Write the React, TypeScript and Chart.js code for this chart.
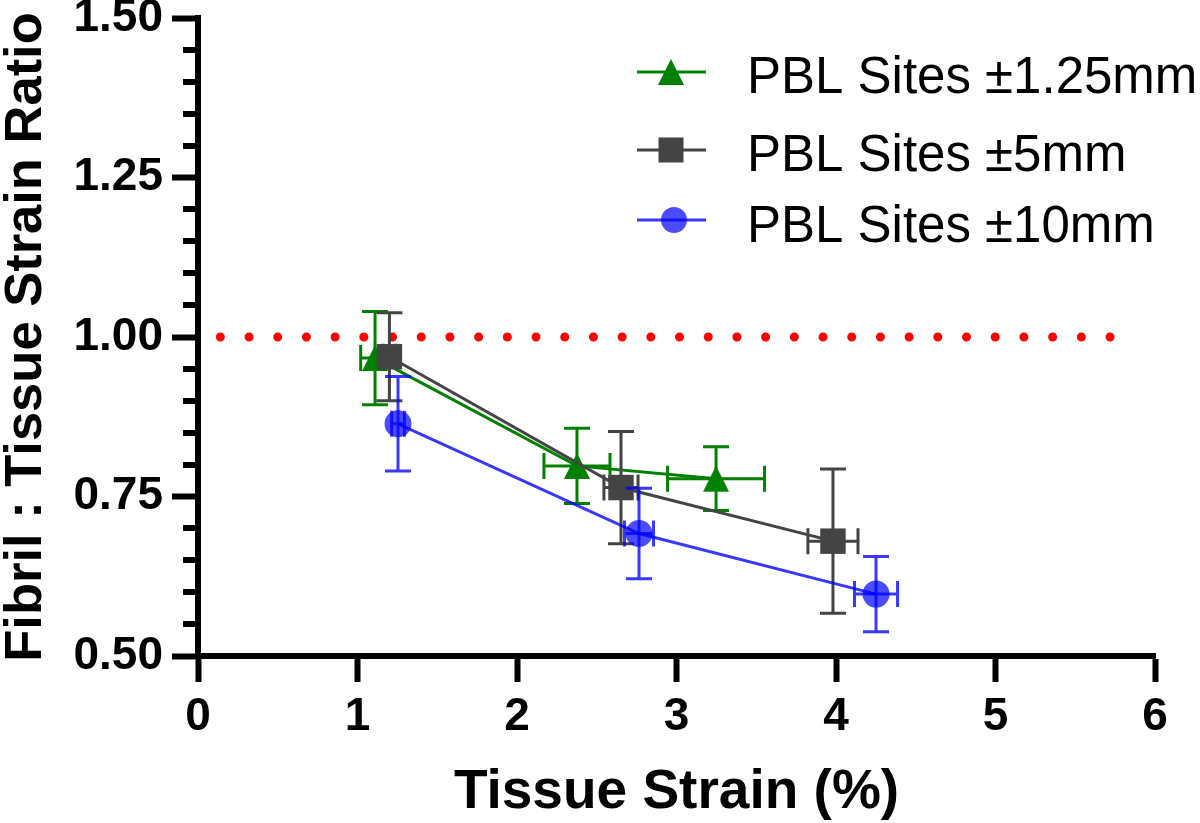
import React, { useEffect, useRef } from "react";
import { Chart, registerables } from "chart.js";

Chart.register(...registerables);

// ---- data ----
const greenX = [1.11, 2.376, 3.248];
const greenY = [0.967, 0.798, 0.778];
const greenXErr = [0.09, 0.207, 0.304];
const greenYErr = [0.073, 0.059, 0.05];

const grayX = [1.2, 2.652, 3.981];
const grayY = [0.969, 0.764, 0.68];
const grayXErr = [0.04, 0.107, 0.157];
const grayYErr = [0.069, 0.088, 0.113];

const blueX = [1.254, 2.765, 4.251];
const blueY = [0.864, 0.692, 0.597];
const blueXErr = [0.04, 0.091, 0.135];
const blueYErr = [0.074, 0.071, 0.059];

const refLineX = [0.14, 5.72];
const refLineY = [1.0, 1.0];

const seriesLabels = ["PBL Sites \u00b11.25mm", "PBL Sites \u00b15mm", "PBL Sites \u00b110mm"];
const xTitle = "Tissue Strain (%)";
const yTitle = "Fibril : Tissue Strain Ratio";

const GREEN = "#008000";
const GRAY = "#444444";
const BLUE = "rgba(0,0,255,0.78)";
const BLUE_FILL = "rgba(0,0,255,0.7)";
const FONT = "'Liberation Sans', Arial, Helvetica, sans-serif";

function makeTriangle(color: string, size: number) {
  const c = document.createElement("canvas");
  c.width = size + 2;
  c.height = size + 2;
  const ctx = c.getContext("2d")!;
  ctx.fillStyle = color;
  ctx.beginPath();
  ctx.moveTo(1, size + 1);
  ctx.lineTo(size + 1, size + 1);
  ctx.lineTo(size / 2 + 1, 1);
  ctx.closePath();
  ctx.fill();
  return c;
}

const errorBarData: Record<number, { xe: number[]; ye: number[]; color: string }> = {
  1: { xe: greenXErr, ye: greenYErr, color: GREEN },
  2: { xe: grayXErr, ye: grayYErr, color: GRAY },
  3: { xe: blueXErr, ye: blueYErr, color: BLUE },
};

const errorBarPlugin = {
  id: "errorBars",
  beforeDatasetDraw(chart: any, args: any) {
    const info = errorBarData[args.index];
    if (!info) return;
    const ds = chart.data.datasets[args.index];
    const xs = chart.scales.x;
    const ys = chart.scales.y;
    const ctx = chart.ctx;
    const cap = 13;
    ctx.save();
    ctx.strokeStyle = info.color;
    ctx.lineWidth = 3;
    ds.data.forEach((p: any, i: number) => {
      const px = xs.getPixelForValue(p.x);
      const py = ys.getPixelForValue(p.y);
      const yTop = ys.getPixelForValue(p.y + info.ye[i]);
      const yBot = ys.getPixelForValue(p.y - info.ye[i]);
      const xL = xs.getPixelForValue(p.x - info.xe[i]);
      const xR = xs.getPixelForValue(p.x + info.xe[i]);
      ctx.beginPath();
      ctx.moveTo(px, yTop);
      ctx.lineTo(px, yBot);
      ctx.moveTo(px - cap, yTop);
      ctx.lineTo(px + cap, yTop);
      ctx.moveTo(px - cap, yBot);
      ctx.lineTo(px + cap, yBot);
      ctx.moveTo(xL, py);
      ctx.lineTo(xR, py);
      ctx.moveTo(xL, py - cap);
      ctx.lineTo(xL, py + cap);
      ctx.moveTo(xR, py - cap);
      ctx.lineTo(xR, py + cap);
      ctx.stroke();
    });
    ctx.restore();
  },
};

const minorTickPlugin = {
  id: "minorTicks",
  afterDraw(chart: any) {
    const ys = chart.scales.y;
    const ctx = chart.ctx;
    const x0 = chart.chartArea.left;
    ctx.save();
    ctx.strokeStyle = "#000";
    ctx.lineWidth = 6;
    for (let k = 11; k < 30; k++) {
      if (k % 5 === 0) continue;
      const v = k * 0.05;
      const py = Math.round(ys.getPixelForValue(v));
      ctx.beginPath();
      ctx.moveTo(x0, py);
      ctx.lineTo(x0 - 15, py);
      ctx.stroke();
    }
    ctx.restore();
  },
};

const legendPlugin = {
  id: "customLegend",
  afterDraw(chart: any) {
    const ctx = chart.ctx;
    const rows = [
      { y: 72, base: 93, color: GREEN, marker: "tri" },
      { y: 150, base: 171, color: GRAY, marker: "rect" },
      { y: 220, base: 242, color: BLUE, marker: "circle" },
    ];
    ctx.save();
    rows.forEach((r, i) => {
      ctx.strokeStyle = r.color;
      ctx.lineWidth = 3;
      ctx.beginPath();
      ctx.moveTo(637, r.y);
      ctx.lineTo(706, r.y);
      ctx.stroke();
      const cx = 671;
      if (r.marker === "tri") {
        ctx.fillStyle = GREEN;
        ctx.beginPath();
        ctx.moveTo(cx - 13, r.y + 13);
        ctx.lineTo(cx + 13, r.y + 13);
        ctx.lineTo(cx, r.y - 13);
        ctx.closePath();
        ctx.fill();
      } else if (r.marker === "rect") {
        ctx.fillStyle = GRAY;
        ctx.fillRect(cx - 12.5, r.y - 12.5, 25, 25);
      } else {
        ctx.fillStyle = BLUE_FILL;
        ctx.beginPath();
        ctx.arc(cx + 3, r.y, 13, 0, Math.PI * 2);
        ctx.fill();
      }
      ctx.fillStyle = "#000";
      ctx.font = `51px ${FONT}`;
      ctx.textAlign = "left";
      ctx.textBaseline = "alphabetic";
      ctx.fillText(seriesLabels[i], 747, r.base);
    });
    ctx.restore();
  },
};

function toPoints(xs: number[], ys: number[]) {
  return xs.map((x, i) => ({ x, y: ys[i] }));
}

export default function App() {
  const canvasRef = useRef<HTMLCanvasElement | null>(null);

  useEffect(() => {
    document.body.style.margin = "0";
    const canvas = canvasRef.current!;
    const triangle = makeTriangle(GREEN, 26);
    const chart = new Chart(canvas, {
      type: "scatter",
      data: {
        datasets: [
          {
            label: "ref",
            data: toPoints(refLineX, refLineY),
            showLine: true,
            borderColor: "#ff0000",
            borderWidth: 9,
            borderDash: [0, 28.7],
            borderCapStyle: "round",
            pointRadius: 0,
            order: 4,
          },
          {
            label: seriesLabels[0],
            data: toPoints(greenX, greenY),
            showLine: true,
            borderColor: GREEN,
            borderWidth: 3,
            pointStyle: triangle as any,
            pointRadius: 14,
            backgroundColor: GREEN,
            order: 3,
          },
          {
            label: seriesLabels[1],
            data: toPoints(grayX, grayY),
            showLine: true,
            borderColor: GRAY,
            borderWidth: 3,
            pointStyle: "rect",
            pointRadius: 18,
            pointBorderWidth: 0,
            backgroundColor: GRAY,
            order: 2,
          },
          {
            label: seriesLabels[2],
            data: toPoints(blueX, blueY),
            showLine: true,
            borderColor: BLUE,
            borderWidth: 3,
            pointStyle: "circle",
            pointRadius: 13.5,
            pointBorderWidth: 0,
            backgroundColor: BLUE_FILL,
            order: 1,
          },
        ],
      } as any,
      options: {
        responsive: false,
        animation: false,
        devicePixelRatio: 1,
        layout: { padding: { left: 0, top: 16, right: 45, bottom: 0 } },
        plugins: {
          legend: { display: false },
          tooltip: { enabled: false },
        },
        scales: {
          x: {
            type: "linear",
            min: 0,
            max: 6,
            afterFit(scale: any) {
              scale.height = 167;
              scale.paddingLeft = 0;
              scale.paddingRight = 0;
            },
            border: { display: true, color: "#000", width: 6 },
            grid: {
              drawOnChartArea: false,
              drawTicks: true,
              tickLength: 26,
              tickWidth: 6,
              tickColor: "#000",
            },
            ticks: {
              stepSize: 1,
              padding: 12,
              color: "#000",
              font: { family: FONT, size: 46, weight: "bold", lineHeight: 1 },
              callback: (v: any) => String(v),
            },
            title: {
              display: true,
              text: xTitle,
              color: "#000",
              padding: { top: 0, bottom: 3 },
              font: { family: FONT, size: 55, weight: "bold", lineHeight: 1 },
            },
          },
          y: {
            type: "linear",
            min: 0.5,
            max: 1.5,
            afterFit(scale: any) {
              scale.width = 198;
              scale.paddingTop = 0;
              scale.paddingBottom = 0;
            },
            border: { display: true, color: "#000", width: 6 },
            grid: {
              drawOnChartArea: false,
              drawTicks: true,
              tickLength: 26,
              tickWidth: 6,
              tickColor: "#000",
            },
            ticks: {
              stepSize: 0.25,
              padding: 9,
              color: "#000",
              font: { family: FONT, size: 46, weight: "bold", lineHeight: 1 },
              callback: (v: any) => Number(v).toFixed(2),
            },
            title: {
              display: true,
              text: yTitle,
              color: "#000",
              padding: { top: 0, bottom: 0 },
              font: { family: FONT, size: 52.5, weight: "bold", lineHeight: 1 },
            },
          },
        },
      } as any,
      plugins: [errorBarPlugin, minorTickPlugin, legendPlugin],
    });
    return () => chart.destroy();
  }, []);

  return (
    <div style={{ width: 1200, height: 823 }}>
      <canvas ref={canvasRef} width={1200} height={823} />
    </div>
  );
}
